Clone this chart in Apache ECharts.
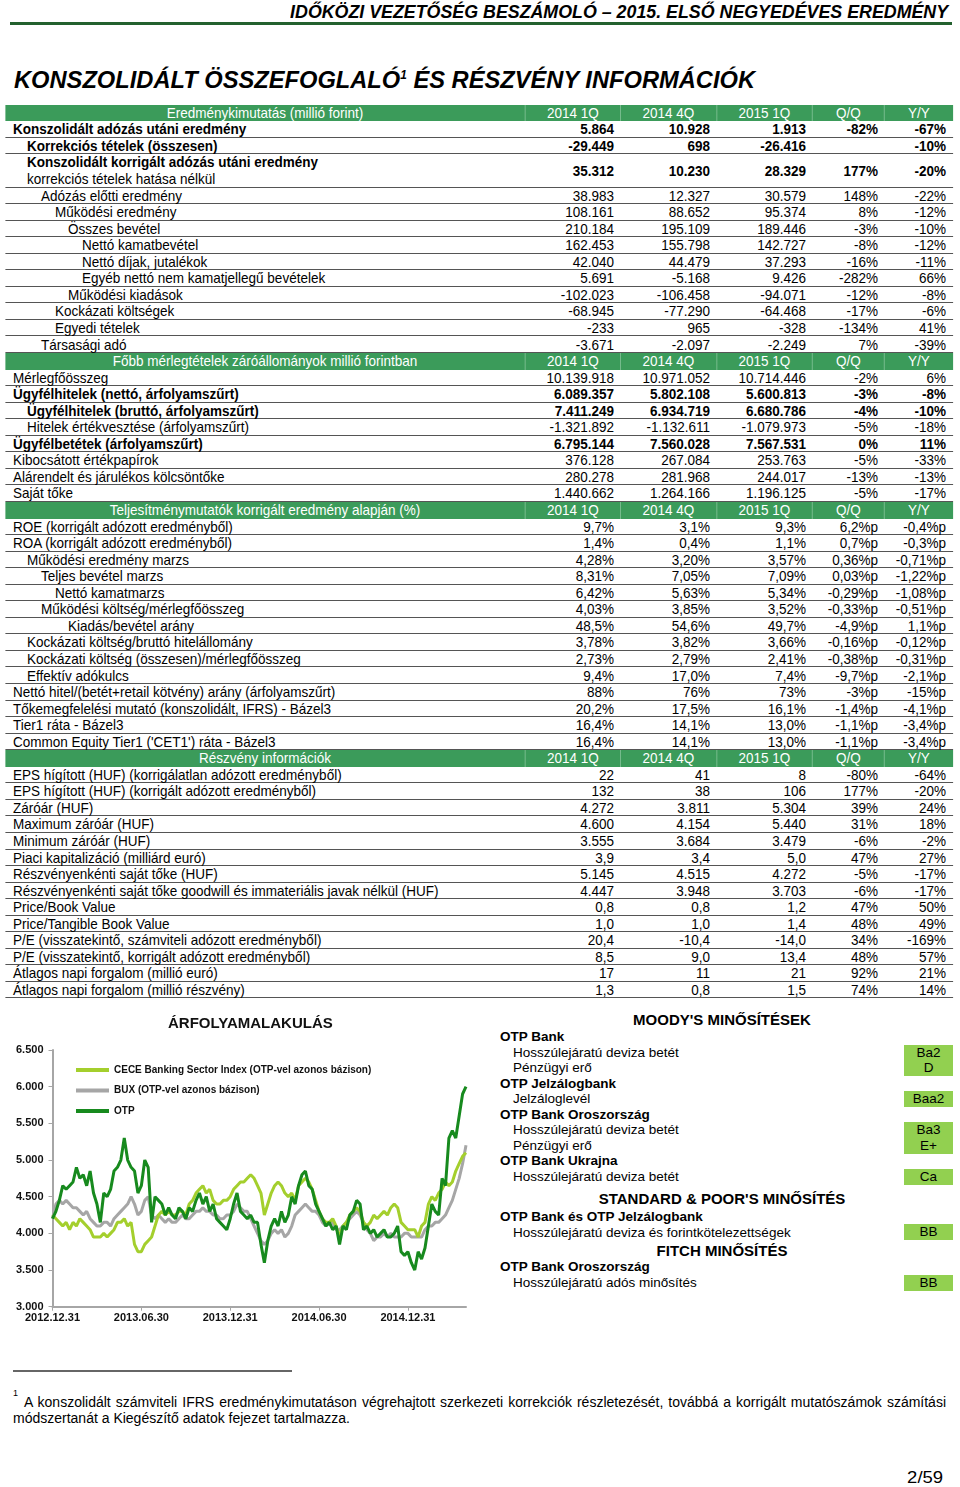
<!DOCTYPE html>
<html>
<head>
<meta charset="utf-8">
<script src="https://cdn.jsdelivr.net/npm/echarts@6/dist/echarts.min.js"></script>
<style>
    body { margin: 0; width: 960px; height: 1487px; position: relative; overflow: hidden; background: #fff;
           font-family: "Liberation Sans", Arial, sans-serif; color: #000; }
    .abs { position: absolute; white-space: nowrap; }
    #tbl { position: absolute; left: 0; top: 0; width: 1067px; height: 1000px; transform: scaleX(0.9); transform-origin: 0 0; font-size: 15px; }
    #tbl div { position: absolute; white-space: nowrap; box-sizing: border-box; }
    .band { background: #3b9b5a; }
    .bcell { color: #fff; text-align: center; }
    .line { border-bottom: 1px solid #555; }
    .val { text-align: right; }
    .rating { position: absolute; background: #92d050; text-align: center; font-size: 13.5px; line-height: 15.6px; }
    .mtxt { position: absolute; white-space: nowrap; font-size: 13.5px; line-height: 16px; }
</style>
</head>
<body>
<div class="abs" id="head" style="right:12px;top:1px;font-size:19px;line-height:22px;font-weight:bold;font-style:italic;display:inline-block">IDŐKÖZI VEZETŐSÉG BESZÁMOLÓ – 2015. ELSŐ NEGYEDÉVES EREDMÉNY</div>
<div class="abs" style="left:10px;top:22px;width:942px;height:3px;background:#23612f"></div>
<div class="abs" id="title" style="left:14px;top:65px;font-size:24px;line-height:30px;font-weight:bold;font-style:italic;display:inline-block">KONSZOLIDÁLT ÖSSZEFOGLALÓ<sup style="font-size:12px;vertical-align:9px;line-height:0">1</sup> ÉS RÉSZVÉNY INFORMÁCIÓK</div>
<div id="tbl"></div>
<div id="chart" class="abs" style="left:0;top:1005px;width:480px;height:320px"></div>
<div id="ratings"></div>
<div class="abs" style="left:13px;top:1370px;width:279px;height:2px;background:#666"></div>
<div class="abs" style="left:13px;top:1388px;font-size:9px;line-height:10px">1</div>
<div class="abs" id="foot1" style="left:24px;top:1394px;font-size:14px;line-height:16px">A konszolidált számviteli IFRS eredménykimutatáson végrehajtott szerkezeti korrekciók részletezését, továbbá a korrigált mutatószámok számítási</div>
<div class="abs" style="left:13px;top:1410px;font-size:14px;line-height:16px">módszertanát a Kiegészítő adatok fejezet tartalmazza.</div>
<div class="abs" id="page" style="right:17px;top:1468px;font-size:17px;line-height:20px;display:inline-block">2/59</div>
<script>
// --- táblázat adatai ---
var periodHeads = ['2014 1Q', '2014 4Q', '2015 1Q', 'Q/Q', 'Y/Y'];

var bandIncome = 'Eredménykimutatás (millió forint)';
var incomeRows = [
    ['Konszolidált adózás utáni eredmény', 0, 1, ['5.864', '10.928', '1.913', '-82%', '-67%']],
    ['Korrekciós tételek (összesen)', 1, 1, ['-29.449', '698', '-26.416', '', '-10%']],
    ['Konszolidált korrigált adózás utáni eredmény|korrekciós tételek hatása nélkül', 1, 1, ['35.312', '10.230', '28.329', '177%', '-20%']],
    ['Adózás előtti eredmény', 2, 0, ['38.983', '12.327', '30.579', '148%', '-22%']],
    ['Működési eredmény', 3, 0, ['108.161', '88.652', '95.374', '8%', '-12%']],
    ['Összes bevétel', 4, 0, ['210.184', '195.109', '189.446', '-3%', '-10%']],
    ['Nettó kamatbevétel', 5, 0, ['162.453', '155.798', '142.727', '-8%', '-12%']],
    ['Nettó díjak, jutalékok', 5, 0, ['42.040', '44.479', '37.293', '-16%', '-11%']],
    ['Egyéb nettó nem kamatjellegű bevételek', 5, 0, ['5.691', '-5.168', '9.426', '-282%', '66%']],
    ['Működési kiadások', 4, 0, ['-102.023', '-106.458', '-94.071', '-12%', '-8%']],
    ['Kockázati költségek', 3, 0, ['-68.945', '-77.290', '-64.468', '-17%', '-6%']],
    ['Egyedi tételek', 3, 0, ['-233', '965', '-328', '-134%', '41%']],
    ['Társasági adó', 2, 0, ['-3.671', '-2.097', '-2.249', '7%', '-39%']]
];

var bandBalance = 'Főbb mérlegtételek záróállományok millió forintban';
var balanceRows = [
    ['Mérlegfőösszeg', 0, 0, ['10.139.918', '10.971.052', '10.714.446', '-2%', '6%']],
    ['Ügyfélhitelek (nettó, árfolyamszűrt)', 0, 1, ['6.089.357', '5.802.108', '5.600.813', '-3%', '-8%']],
    ['Ügyfélhitelek (bruttó, árfolyamszűrt)', 1, 1, ['7.411.249', '6.934.719', '6.680.786', '-4%', '-10%']],
    ['Hitelek értékvesztése (árfolyamszűrt)', 1, 0, ['-1.321.892', '-1.132.611', '-1.079.973', '-5%', '-18%']],
    ['Ügyfélbetétek (árfolyamszűrt)', 0, 1, ['6.795.144', '7.560.028', '7.567.531', '0%', '11%']],
    ['Kibocsátott értékpapírok', 0, 0, ['376.128', '267.084', '253.763', '-5%', '-33%']],
    ['Alárendelt és járulékos kölcsöntőke', 0, 0, ['280.278', '281.968', '244.017', '-13%', '-13%']],
    ['Saját tőke', 0, 0, ['1.440.662', '1.264.166', '1.196.125', '-5%', '-17%']]
];

var bandRatios = 'Teljesítménymutatók korrigált eredmény alapján (%)';
var ratioRows = [
    ['ROE (korrigált adózott eredményből)', 0, 0, ['9,7%', '3,1%', '9,3%', '6,2%p', '-0,4%p']],
    ['ROA (korrigált adózott eredményből)', 0, 0, ['1,4%', '0,4%', '1,1%', '0,7%p', '-0,3%p']],
    ['Működési eredmény marzs', 1, 0, ['4,28%', '3,20%', '3,57%', '0,36%p', '-0,71%p']],
    ['Teljes bevétel marzs', 2, 0, ['8,31%', '7,05%', '7,09%', '0,03%p', '-1,22%p']],
    ['Nettó kamatmarzs', 3, 0, ['6,42%', '5,63%', '5,34%', '-0,29%p', '-1,08%p']],
    ['Működési költség/mérlegfőösszeg', 2, 0, ['4,03%', '3,85%', '3,52%', '-0,33%p', '-0,51%p']],
    ['Kiadás/bevétel arány', 4, 0, ['48,5%', '54,6%', '49,7%', '-4,9%p', '1,1%p']],
    ['Kockázati költség/bruttó hitelállomány', 1, 0, ['3,78%', '3,82%', '3,66%', '-0,16%p', '-0,12%p']],
    ['Kockázati költség (összesen)/mérlegfőösszeg', 1, 0, ['2,73%', '2,79%', '2,41%', '-0,38%p', '-0,31%p']],
    ['Effektív adókulcs', 1, 0, ['9,4%', '17,0%', '7,4%', '-9,7%p', '-2,1%p']],
    ['Nettó hitel/(betét+retail kötvény) arány (árfolyamszűrt)', 0, 0, ['88%', '76%', '73%', '-3%p', '-15%p']],
    ['Tőkemegfelelési mutató (konszolidált, IFRS) - Bázel3', 0, 0, ['20,2%', '17,5%', '16,1%', '-1,4%p', '-4,1%p']],
    ['Tier1 ráta - Bázel3', 0, 0, ['16,4%', '14,1%', '13,0%', '-1,1%p', '-3,4%p']],
    ["Common Equity Tier1 ('CET1') ráta - Bázel3", 0, 0, ['16,4%', '14,1%', '13,0%', '-1,1%p', '-3,4%p']]
];

var bandShare = 'Részvény információk';
var shareRows = [
    ['EPS hígított (HUF) (korrigálatlan adózott eredményből)', 0, 0, ['22', '41', '8', '-80%', '-64%']],
    ['EPS hígított (HUF) (korrigált adózott eredményből)', 0, 0, ['132', '38', '106', '177%', '-20%']],
    ['Záróár (HUF)', 0, 0, ['4.272', '3.811', '5.304', '39%', '24%']],
    ['Maximum záróár (HUF)', 0, 0, ['4.600', '4.154', '5.440', '31%', '18%']],
    ['Minimum záróár (HUF)', 0, 0, ['3.555', '3.684', '3.479', '-6%', '-2%']],
    ['Piaci kapitalizáció (milliárd euró)', 0, 0, ['3,9', '3,4', '5,0', '47%', '27%']],
    ['Részvényenkénti saját tőke (HUF)', 0, 0, ['5.145', '4.515', '4.272', '-5%', '-17%']],
    ['Részvényenkénti saját tőke goodwill és immateriális javak nélkül (HUF)', 0, 0, ['4.447', '3.948', '3.703', '-6%', '-17%']],
    ['Price/Book Value', 0, 0, ['0,8', '0,8', '1,2', '47%', '50%']],
    ['Price/Tangible Book Value', 0, 0, ['1,0', '1,0', '1,4', '48%', '49%']],
    ['P/E (visszatekintő, számviteli adózott eredményből)', 0, 0, ['20,4', '-10,4', '-14,0', '34%', '-169%']],
    ['P/E (visszatekintő, korrigált adózott eredményből)', 0, 0, ['8,5', '9,0', '13,4', '48%', '57%']],
    ['Átlagos napi forgalom (millió euró)', 0, 0, ['17', '11', '21', '92%', '21%']],
    ['Átlagos napi forgalom (millió részvény)', 0, 0, ['1,3', '0,8', '1,5', '74%', '14%']]
];

// --- árfolyam grafikon adatai (heti leolvasás) ---
var xLabels = ['2012.12.31', '2013.06.30', '2013.12.31', '2014.06.30', '2014.12.31'];
var seriesNames = ['CECE Banking Sector Index (OTP-vel azonos bázison)', 'BUX (OTP-vel azonos bázison)', 'OTP'];
var cece = [
    4250, 4200, 4150, 4100, 4150, 4050, 4150, 4100, 4200, 4150,
    4100, 4050, 3950, 3950, 3950, 4000, 3950, 4000, 4050, 4150,
    4150, 4200, 4100, 4150, 3850, 3750, 3750, 3850, 3900, 3950,
    4100, 4250, 4300, 4250, 4300, 4250, 4250, 4300, 4300, 4250,
    4400, 4450, 4550, 4600, 4650, 4550, 4600, 4450, 4400, 4400,
    4450, 4450, 4500, 4600, 4650, 4700, 4700, 4750, 4800, 4750,
    4650, 4550, 4250, 4400, 4550, 4650, 4700, 4650, 4550, 4500,
    4550, 4450, 4650, 4700, 4750, 4700, 4600, 4450, 4300, 4200,
    4150, 4150, 4200, 4100, 3950, 4100, 4150, 4250, 4300, 4350,
    4300, 4150, 4100, 4150, 4250, 4200, 4250, 4300, 4250, 4350,
    4400, 4350, 4150, 4100, 4050, 4050, 4050, 3950, 4100, 4150,
    4400, 4500, 4450, 4550, 4600, 4700, 4650, 4700, 4850, 4950,
    5050, 5100
];
var bux = [
    4200, 4400, 4450, 4400, 4450, 4400, 4350, 4350, 4300, 4250,
    4300, 4200, 4150, 4100, 4100, 4150, 4150, 4100, 4200, 4250,
    4300, 4350, 4400, 4500, 4400, 4250, 4300, 4450, 4500, 4250,
    4200, 4250, 4200, 4150, 4200, 4150, 4150, 4200, 4250, 4200,
    4200, 4250, 4300, 4300, 4350, 4300, 4300, 4250, 4250, 4200,
    4200, 4250, 4250, 4300, 4400, 4350, 4300, 4300, 4200, 4100,
    4000, 3900, 3850, 3900, 4000, 4050, 4000, 4050, 3950, 4000,
    4100, 4250, 4300, 4350, 4400, 4350, 4300, 4300, 4250, 4150,
    4100, 4150, 4150, 4050, 4050, 4100, 4150, 4200, 4250, 4300,
    4250, 4150, 4050, 4000, 3900, 3950, 3950, 4000, 3950, 4000,
    3950, 3950, 3950, 4000, 4000, 3950, 3950, 3950, 3950, 4050,
    4100, 4100, 4150, 4150, 4200, 4250, 4350, 4450, 4600, 4750,
    4950, 5200
];
var otp = [
    4200, 4300, 4450, 4650, 4600, 4650, 4700, 4900, 4750, 4800,
    4650, 4850, 4550, 4400, 4150, 4550, 4500, 4600, 4850, 4900,
    5000, 5300, 5000, 4900, 4850, 4550, 4650, 5000, 4900, 4150,
    4500, 4450, 4400, 4250, 4350, 4250, 4200, 4350, 4300, 4200,
    4350, 4300, 4450, 4550, 4400, 4500, 4300, 4400, 4200, 4150,
    4100, 4050, 4200, 4400, 4550, 4300, 4250, 4200, 4250, 4150,
    4150, 3850, 3600, 3900, 4100, 4200, 4100, 4300, 4150, 4250,
    4500, 4400, 4650, 4800, 4850, 4650, 4600, 4400, 4300, 4200,
    4100, 4150, 4050, 4100, 3850, 4100, 4050, 4250, 4300, 4450,
    4400, 4050, 4100, 4000, 4050, 3950, 4000, 4050, 3950, 3950,
    4000, 4100, 3750, 3700, 3750, 3600, 3500, 3750, 3650, 3800,
    4100, 4400, 4300, 4250, 4750, 4650, 5300, 5400, 5300, 5600,
    5900, 6000
];

// --- minősítések ---
var moodysLines = [
    ['OTP Bank', 1], ['Hosszúlejáratú deviza betét', 0], ['Pénzügyi erő', 0],
    ['OTP Jelzálogbank', 1], ['Jelzáloglevél', 0],
    ['OTP Bank Oroszország', 1], ['Hosszúlejáratú deviza betét', 0], ['Pénzügyi erő', 0],
    ['OTP Bank Ukrajna', 1], ['Hosszúlejáratú deviza betét', 0]
];
var moodysRatings = [[1, 'Ba2|D'], [4, 'Baa2'], [6, 'Ba3|E+'], [9, 'Ca']];
var spLines = [['OTP Bank és OTP Jelzálogbank', 1], ['Hosszúlejáratú deviza és forintkötelezettségek', 0]];
var spRating = 'BB';
var fitchLines = [['OTP Bank Oroszország', 1], ['Hosszúlejáratú adós minősítés', 0]];
var fitchRating = 'BB';

window.onload = function () {
    // kis segédek
    var S = 0.9;
    function X(x) { return x / S; }
    var ROW_H = 16.55, TOP0 = 104.8;
    var COL_EDGES = [5, 525, 620, 716, 812, 884, 953];
    var VALUE_RIGHT = [614, 710, 806, 878, 946];
    var INDENT = [13, 27, 41, 55, 68, 82];
    var tbl = document.getElementById('tbl');

    function add(parent, cls, css, text) {
        var d = document.createElement('div');
        d.className = cls;
        d.style.cssText = css;
        if (text != null) d.textContent = text;
        parent.appendChild(d);
        return d;
    }

    var row = 0;
    function band(title) {
        var top = TOP0 + row * ROW_H;
        add(tbl, 'band', 'top:' + top + 'px;left:' + X(5) + 'px;width:' + (X(953) - X(5)) + 'px;height:' + ROW_H + 'px');
        var heads = [title].concat(periodHeads);
        for (var c = 0; c < 6; c++) {
            var l = X(COL_EDGES[c]), r = X(COL_EDGES[c + 1]);
            add(tbl, 'bcell', 'top:' + top + 'px;left:' + l + 'px;width:' + (r - l) + 'px;height:' + ROW_H +
                'px;line-height:' + ROW_H + 'px;' + (c > 0 ? 'border-left:1px solid #7cbf92;' : ''), heads[c]);
        }
        row++;
    }

    function rows(list) {
        list.forEach(function (r) {
            var parts = r[0].split('|');
            var n = parts.length;
            var top = TOP0 + row * ROW_H, h = ROW_H * n;
            var fw = r[2] ? 'font-weight:bold;' : '';
            add(tbl, 'line', 'top:' + top + 'px;left:' + X(5) + 'px;width:' + (X(953) - X(5)) + 'px;height:' + h + 'px');
            parts.forEach(function (p, k) {
                add(tbl, '', 'top:' + (top + k * ROW_H) + 'px;left:' + X(INDENT[r[1]]) + 'px;line-height:' + ROW_H + 'px;' +
                    (k === 0 ? fw : ''), p);
            });
            for (var c = 0; c < 5; c++) {
                var l = X(COL_EDGES[c + 1]);
                add(tbl, 'val', 'top:' + top + 'px;left:' + l + 'px;width:' + (X(VALUE_RIGHT[c]) - l) + 'px;line-height:' + h + 'px;' + fw, r[3][c]);
            }
            row += n;
        });
    }

    band(bandIncome);   rows(incomeRows);
    band(bandBalance);  rows(balanceRows);
    band(bandRatios);   rows(ratioRows);
    band(bandShare);    rows(shareRows);

    // minősítések
    var rt = document.getElementById('ratings');
    var LP = 15.56;
    function txtLine(t, bold, y) {
        add(rt, 'mtxt', 'left:' + (bold ? 500 : 513) + 'px;top:' + (y - 8) + 'px;' + (bold ? 'font-weight:bold;' : ''), t);
    }
    function heading(t, y) {
        add(rt, 'mtxt', 'left:522px;width:400px;text-align:center;top:' + (y - 9) + 'px;font-size:15px;line-height:18px;font-weight:bold', t);
    }
    function box(label, y, lines) {
        var d = add(rt, 'rating', 'left:904px;width:49px;top:' + (y - 8) + 'px;height:' + (lines * LP + 0.5) + 'px');
        d.innerHTML = label.split('|').join('<br>');
    }
    heading("MOODY'S MINŐSÍTÉSEK", 1020);
    moodysLines.forEach(function (l, k) { txtLine(l[0], l[1], 1037 + k * LP); });
    moodysRatings.forEach(function (r) { box(r[1], 1037 + r[0] * LP, r[1].split('|').length); });
    heading("STANDARD & POOR'S MINŐSÍTÉS", 1199);
    spLines.forEach(function (l, k) { txtLine(l[0], l[1], 1217 + k * LP); });
    box(spRating, 1232, 1);
    heading('FITCH MINŐSÍTÉS', 1251);
    fitchLines.forEach(function (l, k) { txtLine(l[0], l[1], 1267 + k * 16); });
    box(fitchRating, 1283, 1);

    // szélesség igazítás
    function fit(id, width, origin) {
        var el = document.getElementById(id);
        var w = el.getBoundingClientRect().width;
        el.style.transformOrigin = origin;
        el.style.transform = 'scaleX(' + (width / w) + ')';
    }
    fit('head', 658, 'right center');
    fit('title', 741, 'left center');
    fit('page', 36, 'right center');
    var f1 = document.getElementById('foot1');
    var spaces = f1.textContent.split(' ').length - 1;
    f1.style.wordSpacing = ((922 - f1.getBoundingClientRect().width) / spaces) + 'px';

    // grafikon
    var chart = echarts.init(document.getElementById('chart'));
    function thousands(v) { return String(v).replace(/\B(?=(\d{3})+(?!\d))/g, '.'); }
    function toPoints(arr) { return arr.map(function (v, i) { return [i, v]; }); }
    var axisGray = '#a6a6a6';
    var lbl = { fontSize: 11, fontWeight: 'bold', color: '#111', fontFamily: 'Liberation Sans' };
    chart.setOption({
        animation: false,
        title: {
            text: 'ÁRFOLYAMALAKULÁS', left: 163, top: 6,
            textStyle: { fontSize: 15, fontWeight: 'bold', color: '#111', fontFamily: 'Liberation Sans' }
        },
        legend: {
            data: seriesNames, orient: 'vertical', left: 71, top: 55,
            icon: 'rect', itemWidth: 33, itemHeight: 4, itemGap: 10.5,
            textStyle: { fontSize: 10, fontWeight: 'bold', color: '#111', fontFamily: 'Liberation Sans' }
        },
        grid: { left: 52.5, top: 45, width: 413.5, height: 256.7 },
        xAxis: {
            type: 'value', min: 0, max: 121, interval: 26,
            axisLine: { lineStyle: { color: axisGray, width: 2 } },
            axisTick: { length: 4, lineStyle: { color: axisGray } },
            splitLine: { show: false },
            axisLabel: Object.assign({ margin: 6, showMaxLabel: false, formatter: function (v) { return xLabels[v / 26] || ''; } }, lbl)
        },
        yAxis: {
            type: 'value', min: 3000, max: 6500, interval: 500,
            axisLine: { show: true, lineStyle: { color: axisGray, width: 2 } },
            axisTick: { show: true, length: 4, lineStyle: { color: axisGray } },
            splitLine: { show: false },
            axisLabel: Object.assign({ margin: 9, formatter: thousands }, lbl)
        },
        series: [
            { name: seriesNames[1], type: 'line', data: toPoints(bux), showSymbol: false, color: '#a6a6a6', lineStyle: { width: 3 } },
            { name: seriesNames[0], type: 'line', data: toPoints(cece), showSymbol: false, color: '#a4cf2d', lineStyle: { width: 3 } },
            { name: seriesNames[2], type: 'line', data: toPoints(otp), showSymbol: false, color: '#178a1e', lineStyle: { width: 3 } }
        ]
    });
};
</script>
</body>
</html>
